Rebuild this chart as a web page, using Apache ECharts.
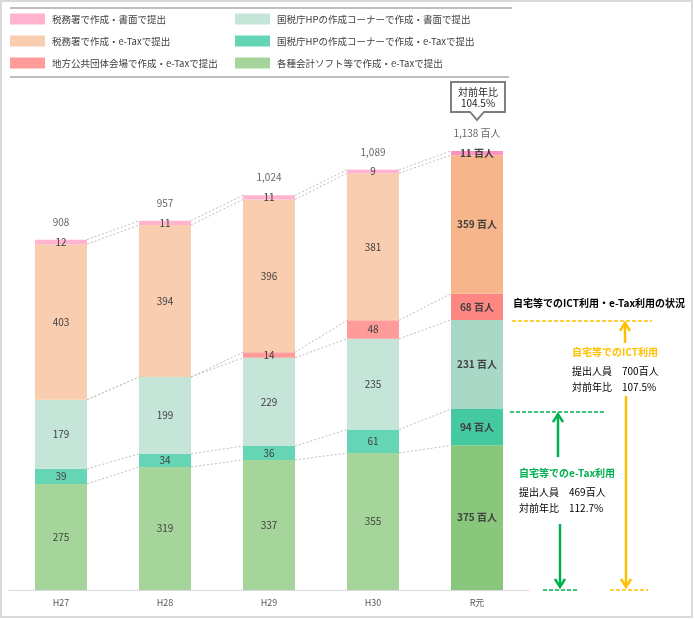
<!DOCTYPE html>
<html>
<head>
<meta charset="utf-8">
<script src="https://cdn.jsdelivr.net/npm/echarts@6/dist/echarts.min.js"></script>
<style>html,body{margin:0;padding:0;background:#fff}#c{width:694px;height:619px}</style>
</head>
<body>
<div id="c"></div>
<script>
const categories = ['H27', 'H28', 'H29', 'H30', 'R元'];
const namePink = '税務署で作成・書面で提出';
const namePeach = '税務署で作成・e-Taxで提出';
const nameRed = '地方公共団体会場で作成・e-Taxで提出';
const nameLteal = '国税庁HPの作成コーナーで作成・書面で提出';
const nameTeal = '国税庁HPの作成コーナーで作成・e-Taxで提出';
const nameGreen = '各種会計ソフト等で作成・e-Taxで提出';
const pinkVals = [12, 11, 11, 9, 11];
const peachVals = [403, 394, 396, 381, 359];
const redVals = [0, 0, 14, 48, 68];
const ltealVals = [179, 199, 229, 235, 231];
const tealVals = [39, 34, 36, 61, 94];
const greenVals = [275, 319, 337, 355, 375];
const totals = [908, 957, 1024, 1089, 1138];
const totalYoy = '104.5%';
const ictValue = 700, ictYoy = '107.5%';
const etaxValue = 469, etaxYoy = '112.7%';

const FONT = '"Noto Sans CJK JP", "Noto Sans", sans-serif';
const chart = echarts.init(document.getElementById('c'));

function mkSeries(name, vals, color, darkColor) {
  return {
    name: name, type: 'bar', stack: 'all', barWidth: '50%',
    itemStyle: { color: color },
    label: {
      show: true, position: 'inside', color: '#404040', fontSize: 10, fontFamily: FONT,
      formatter: p => (p.value === 0 ? '' : String(p.value))
    },
    data: vals.map((v, i) => i === categories.length - 1 ? {
      value: v, itemStyle: { color: darkColor },
      label: { fontWeight: 'bold', formatter: p => (p.value === 0 ? '' : p.value + ' 百人') }
    } : v)
  };
}

const stackOrder = [greenVals, tealVals, ltealVals, redVals, peachVals, pinkVals];
const connData = [];
for (let i = 0; i < categories.length - 1; i++) {
  let a = 0, b = 0;
  for (const arr of stackOrder) {
    a += arr[i]; b += arr[i + 1];
    connData.push([i, a, b]);
  }
}

const legendCommon = {
  orient: 'vertical', itemWidth: 35, itemHeight: 11, itemGap: 11, icon: 'rect', padding: 0,
  textStyle: { fontSize: 9.5, color: '#404040', fontFamily: FONT, padding: [0, 0, 0, 2] },
  selectedMode: false
};

chart.setOption({
  animation: false,
  textStyle: { fontFamily: FONT },
  legend: [
    Object.assign({ left: 10, top: 13.5, data: [namePink, namePeach, nameRed] }, legendCommon),
    Object.assign({ left: 235, top: 13.5, data: [nameLteal, nameTeal, nameGreen] }, legendCommon)
  ],
  grid: { left: 9, right: 165, top: 127, bottom: 29 },
  xAxis: {
    type: 'category', data: categories,
    axisLine: { lineStyle: { color: '#d9d9d9' } },
    axisTick: { show: false },
    axisLabel: { color: '#595959', fontSize: 9, margin: 8, fontFamily: FONT }
  },
  yAxis: { type: 'value', min: 0, max: 1200, show: false, splitLine: { show: false } },
  series: [
    {
      type: 'custom', name: 'conn', z: 1, silent: true,
      encode: { x: 0, y: 1 },
      renderItem: function (params, api) {
        const i = api.value(0), v1 = api.value(1), v2 = api.value(2);
        const p1 = api.coord([i, v1]);
        const p2 = api.coord([i + 1, v2]);
        const hw = api.size([1, 0])[0] * 0.25;
        return {
          type: 'line',
          shape: { x1: p1[0] + hw, y1: p1[1], x2: p2[0] - hw, y2: p2[1] },
          style: { stroke: '#bdbdbd', lineWidth: 1, lineDash: [2, 2] }
        };
      },
      data: connData
    },
    mkSeries(nameGreen, greenVals, '#a6d59c', '#89c77c'),
    mkSeries(nameTeal, tealVals, '#66d5b5', '#44c9a0'),
    mkSeries(nameLteal, ltealVals, '#c5e5d8', '#a9d9c6'),
    mkSeries(nameRed, redVals, '#ff9c9a', '#ff8783'),
    mkSeries(namePeach, peachVals, '#f9cdb0', '#f6b58a'),
    mkSeries(namePink, pinkVals, '#ffb3cf', '#ff92c0'),
    {
      type: 'scatter', name: 'total', symbolSize: 1, silent: true,
      itemStyle: { color: 'transparent' },
      label: {
        show: true, position: 'top', distance: 12, color: '#404040', fontSize: 10, fontFamily: FONT,
        formatter: p => p.value.toLocaleString('en-US') + (p.dataIndex === categories.length - 1 ? ' 百人' : '')
      },
      data: totals
    }
  ]
});

const yPx = v => chart.convertToPixel({ yAxisIndex: 0 }, v);
const xPx = c => chart.convertToPixel({ xAxisIndex: 0 }, c);
const y0 = yPx(0), y700 = yPx(ictValue), y469 = yPx(etaxValue);
const cx = xPx(categories[categories.length - 1]);
const tipY = yPx(totals[totals.length - 1]) - 31;
const ORANGE = '#ffc000', GREEN = '#00b050';

function txt(x, y, t, opts) {
  return {
    type: 'text', x: x, y: y, silent: true,
    style: Object.assign({ text: t, fontSize: 10, fontFamily: FONT, fill: '#000', verticalAlign: 'middle', align: 'left' }, opts || {})
  };
}
function dline(x1, x2, y, color) {
  return { type: 'line', silent: true, shape: { x1: x1, y1: y, x2: x2, y2: y }, style: { stroke: color, lineWidth: 1.5, lineDash: [4, 2] } };
}
function arrow(x, yTail, yTip, color) {
  const dir = yTip < yTail ? 1 : -1;
  return [
    { type: 'line', silent: true, shape: { x1: x, y1: yTail, x2: x, y2: yTip + dir * 1 }, style: { stroke: color, lineWidth: 2.5 } },
    { type: 'polyline', silent: true, shape: { points: [[x - 5, yTip + dir * 8], [x, yTip], [x + 5, yTip + dir * 8]] }, style: { stroke: color, lineWidth: 2.5, fill: 'none' } }
  ];
}

const g = [
  { type: 'rect', silent: true, shape: { x: 1, y: 1, width: 691, height: 616 }, style: { fill: 'none', stroke: '#d9d9d9', lineWidth: 2 } },
  { type: 'line', silent: true, shape: { x1: 10, y1: 8, x2: 512, y2: 8 }, style: { stroke: '#bfbfbf', lineWidth: 2 } },
  { type: 'line', silent: true, shape: { x1: 10, y1: 77, x2: 509, y2: 77 }, style: { stroke: '#bfbfbf', lineWidth: 2 } },
  {
    type: 'polygon', silent: true,
    shape: { points: [[cx - 26, tipY - 38], [cx + 28, tipY - 38], [cx + 28, tipY - 8], [cx + 7, tipY - 8], [cx, tipY], [cx - 7, tipY - 8], [cx - 26, tipY - 8]] },
    style: { fill: '#fff', stroke: '#7f7f7f', lineWidth: 2 }
  },
  txt(cx + 1, tipY - 28, '対前年比', { align: 'center', fill: '#262626' }),
  txt(cx + 1, tipY - 17, totalYoy, { align: 'center', fill: '#262626' }),
  txt(513, y700 - 17, '自宅等でのICT利用・e-Tax利用の状況', { fontWeight: 'bold' }),
  dline(512, 652, y700 + 1, ORANGE),
  ...arrow(625, y700 + 23, y700 + 3, ORANGE),
  txt(572, y700 + 32, '自宅等でのICT利用', { fontWeight: 'bold', fill: ORANGE }),
  txt(572, y700 + 51, '提出人員　' + ictValue + '百人'),
  txt(572, y700 + 67, '対前年比　' + ictYoy),
  ...arrow(626, y700 + 76, y0 - 3, ORANGE),
  dline(610, 648, y0, ORANGE),
  dline(510, 605, y469 + 3, GREEN),
  ...arrow(558, y469 + 48, y469 + 5, GREEN),
  txt(519, y469 + 64, '自宅等でのe-Tax利用', { fontWeight: 'bold', fill: GREEN }),
  txt(519, y469 + 83, '提出人員　' + etaxValue + '百人'),
  txt(519, y469 + 99, '対前年比　' + etaxYoy),
  ...arrow(560, y469 + 115, y0 - 3, GREEN),
  dline(543, 578, y0, GREEN)
];
chart.setOption({ graphic: g });
</script>
</body>
</html>
